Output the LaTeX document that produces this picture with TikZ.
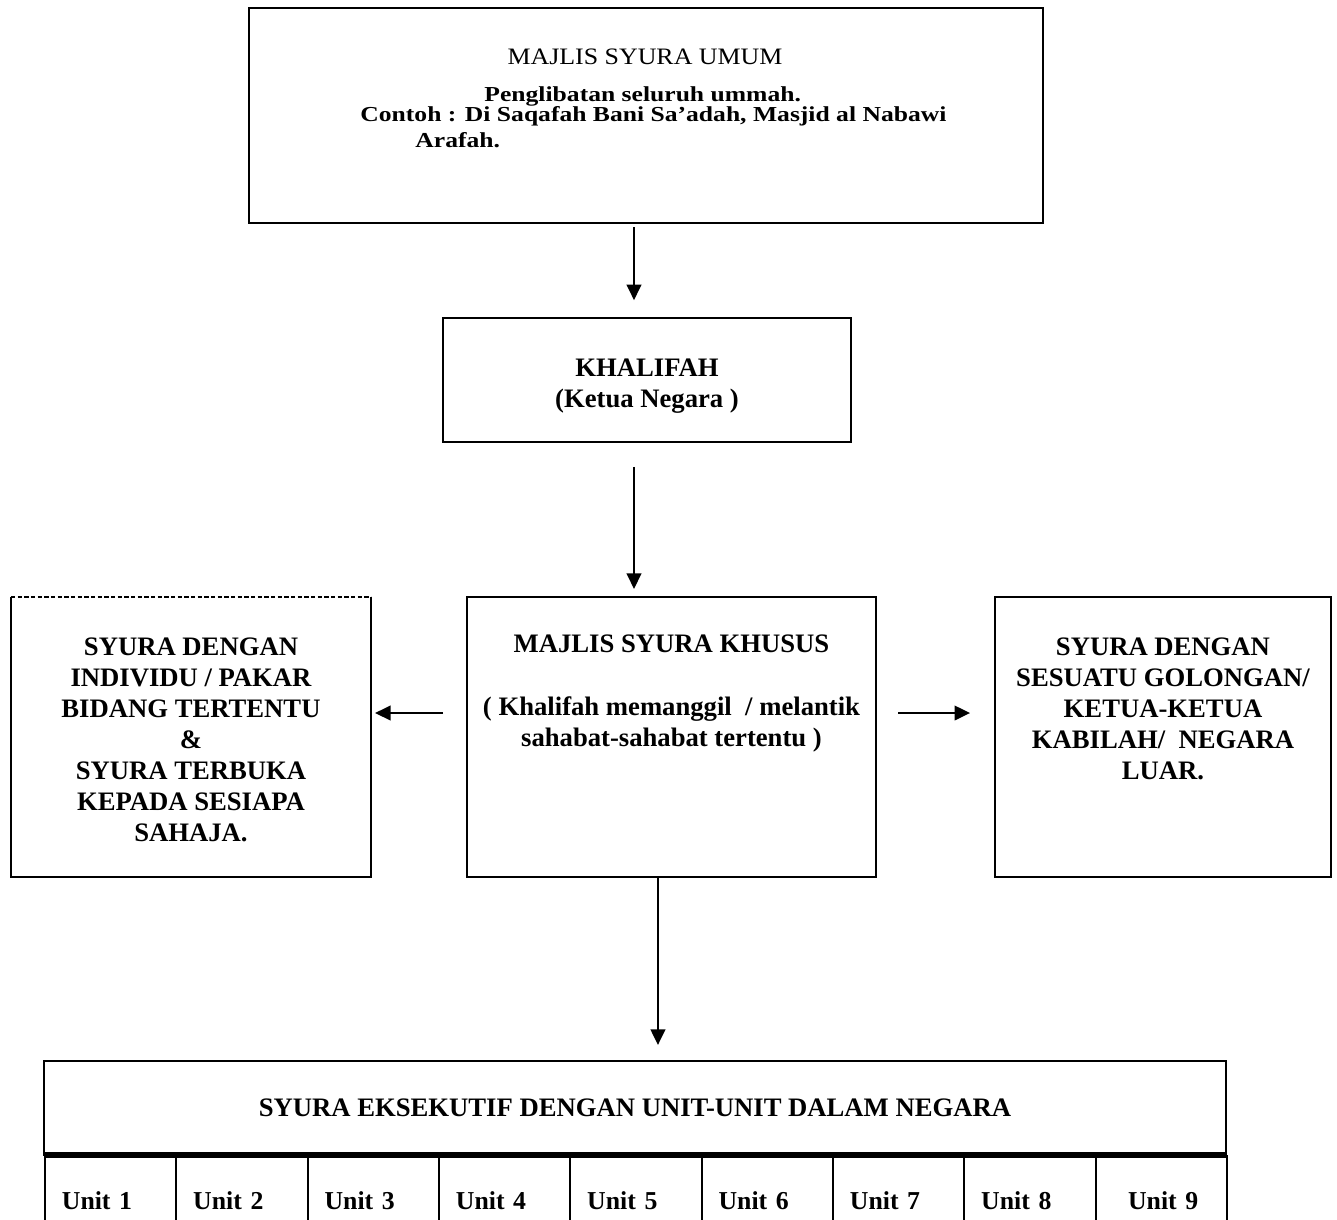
\documentclass[tikz,border=0pt]{standalone}
\usepackage{fontspec}
\setmainfont{Liberation Serif}
\newfontfamily\widefont[FakeStretch=1.2]{Liberation Serif}
\newfontfamily\titlefont[FakeStretch=1.1]{Liberation Serif}
\usetikzlibrary{positioning,matrix,arrows.meta}

\begin{document}
\begin{tikzpicture}[x=0.45pt, y=-0.45pt,
  box/.style={draw, line width=1.2pt, inner sep=0pt, outer sep=0pt},
  lbl/.style={font=\fontsize{12}{14}\selectfont\bfseries, align=center, inner sep=0pt},
  toptxt/.style={font=\widefont\fontsize{9.6}{11}\selectfont\bfseries, inner sep=0pt},
  arr/.style={-{Triangle[width=6.5pt,length=7pt]}, line width=1.1pt}]
  \useasboundingbox (0,0) rectangle (1337,1219);

  % boxes
  \node[box, minimum width=357.3pt, minimum height=96.75pt] (umum) at (646,115.5) {};
  \node[box, minimum width=183.6pt, minimum height=55.8pt] (khalifah) at (647,380) {};
  \node[box, minimum width=184.05pt, minimum height=126pt] (khusus) at (671.5,737) {};
  \node[inner sep=0pt, outer sep=0pt, minimum width=162pt, minimum height=126pt] (individu) at (191,737) {};
  \node[box, minimum width=151.2pt, minimum height=126pt] (golongan) at (1163,737) {};
  \node[box, line width=0.8pt, minimum width=531.9pt, minimum height=42.3pt] (eksekutif) at (635,1108) {};

  \draw[line width=1.2pt] (individu.north east) -- (individu.south east) -- (individu.south west) -- (individu.north west);
  \draw[line width=0.5pt, dash pattern=on 2pt off 1pt] (individu.north west) -- (individu.north east);

  % texts
  \node[anchor=base, inner sep=0pt, font=\titlefont\fontsize{10.6}{12}\selectfont] (umumT) at (645,64) {MAJLIS SYURA UMUM};
  \node[toptxt, anchor=base west] (umumA) at (484,101) {Penglibatan seluruh ummah.};
  \node[toptxt, anchor=base west] (umumB) at (360,121) {Contoh : Di Saqafah Bani Sa’adah, Masjid al Nabawi};
  \node[toptxt, anchor=base west] (umumC) at (415,147) {Arafah.};

  \node[lbl, below=18pt of khalifah.north] (khalifahT) {KHALIFAH\\(Ketua Negara )};
  \node[lbl, below=17pt of khusus.north] (khususT) {MAJLIS SYURA KHUSUS\\[14pt]( Khalifah memanggil~ / melantik\\sahabat-sahabat tertentu )};
  \node[lbl, below=18pt of individu.north] (individuT) {SYURA DENGAN\\INDIVIDU / PAKAR\\BIDANG TERTENTU\\\&\hspace*{40pt}\\SYURA TERBUKA\\KEPADA SESIAPA\\SAHAJA.};
  \node[lbl, below=18pt of golongan.north] (golonganT) {SYURA DENGAN\\SESUATU GOLONGAN/\\KETUA-KETUA\\KABILAH/~ NEGARA\\LUAR.};
  \node[lbl] (eksekutifT) at (eksekutif) {SYURA EKSEKUTIF DENGAN UNIT-UNIT DALAM NEGARA};

  % unit row
  \matrix (units) [matrix of nodes, anchor=north west, inner sep=0pt, outer sep=0pt, column sep=-0.9pt,
    nodes={draw, line width=0.9pt, outer sep=0pt, inner xsep=7.6pt, inner ysep=0pt,
      minimum width=59.1pt, minimum height=40.5pt, text width=43.9pt, align=left,
      font=\fontsize{11.6}{14}\selectfont\bfseries}] at (44,1155)
  {
Unit 1 & Unit 2 & Unit 3 & Unit 4 & Unit 5 & Unit 6 & Unit 7 & Unit 8 & \hspace*{7pt}Unit 9 \\
};
  \draw[line width=2.3pt] (eksekutif.south west) -- (eksekutif.south east);

  % arrows
  \path[arr]
  ([xshift=-5.4pt]umum.south) edge[shorten <=1.8pt, shorten >=8pt] ([xshift=-5.4pt]umum.south |- khalifah.north)
  ([xshift=-5.85pt]khalifah.south) edge[shorten <=11.2pt, shorten >=3.6pt] ([xshift=-5.85pt]khalifah.south |- khusus.north)
  ([xshift=-6.1pt]khusus.south) edge[shorten >=7.2pt] ([xshift=-6.1pt]khusus.south |- eksekutif.north)
  ([yshift=10.8pt]khusus.west) edge[shorten <=10.8pt, shorten >=1.8pt] ([yshift=10.8pt]khusus.west -| individu.east)
  ([yshift=10.8pt]khusus.east) edge[shorten <=9.9pt, shorten >=11.2pt] ([yshift=10.8pt]khusus.east -| golongan.west)
  ;
\end{tikzpicture}
\end{document}
